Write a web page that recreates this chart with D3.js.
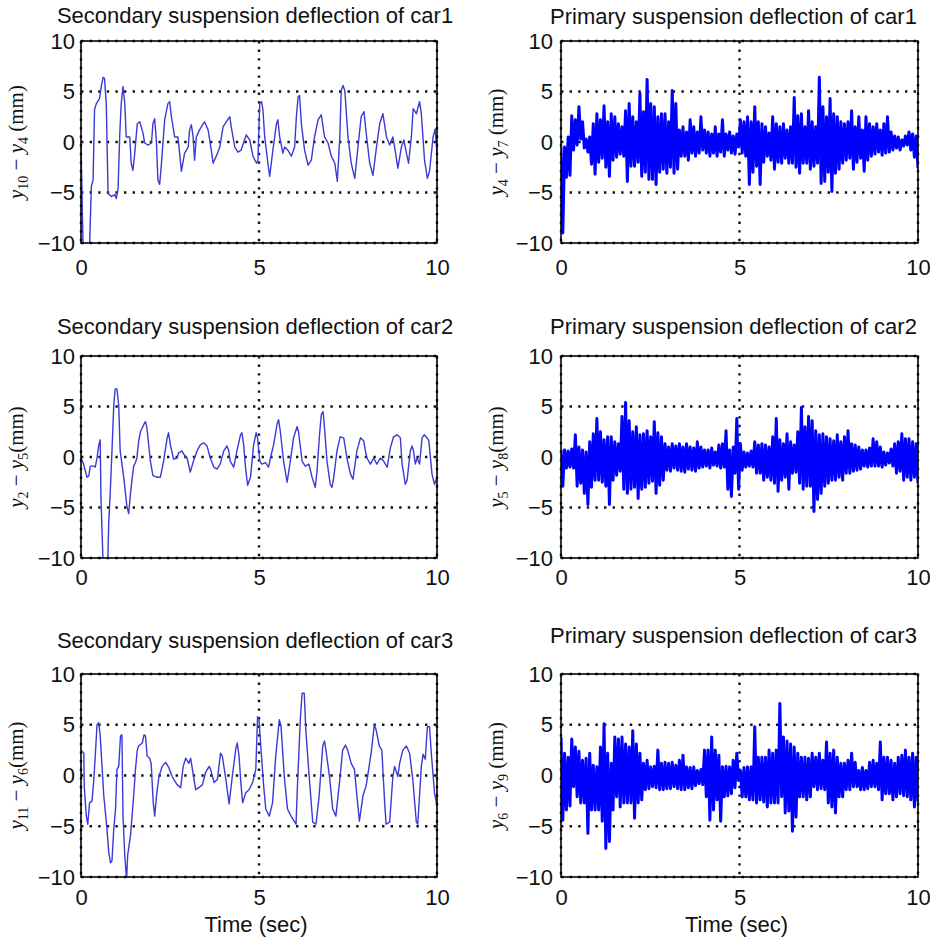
<!DOCTYPE html>
<html>
<head>
<meta charset="utf-8">
<script src="https://cdnjs.cloudflare.com/ajax/libs/d3/7.8.5/d3.min.js"></script>
<style>
  body { margin: 0; background: #fff; }
</style>
</head>
<body>
<div id="chart"></div>
<script>
// axis ticks
var xTicks = [0, 5, 10];
var yTicks = [-10, -5, 0, 5, 10];

// secondary suspension (smooth traces): time (s) and deflection (mm)
var sec1T = [0,0.06,0.24,0.29,0.34,0.38,0.43,0.52,0.57,0.62,0.66,0.71,0.76,0.85,0.95,0.99,1.04,1.09,1.13,1.18,1.23,1.27,1.37,1.41,1.46,1.51,1.58,1.65,1.74,1.79,1.88,1.98,2.02,2.07,2.12,2.16,2.21,2.26,2.35,2.44,2.49,2.54,2.63,2.72,2.77,2.82,2.91,3.01,3.05,3.10,3.15,3.19,3.24,3.33,3.43,3.47,3.57,3.66,3.71,3.80,3.90,3.99,4.08,4.18,4.22,4.32,4.41,4.50,4.64,4.74,4.83,4.93,4.97,5.02,5.07,5.11,5.16,5.25,5.30,5.39,5.49,5.53,5.58,5.67,5.72,5.81,5.91,6.00,6.05,6.10,6.14,6.19,6.28,6.38,6.47,6.56,6.66,6.75,6.84,6.94,7.03,7.13,7.20,7.27,7.31,7.36,7.41,7.50,7.59,7.69,7.78,7.87,7.95,8.01,8.11,8.20,8.30,8.39,8.48,8.58,8.67,8.76,8.81,8.90,9.00,9.07,9.14,9.20,9.28,9.33,9.42,9.51,9.56,9.65,9.73,9.79,9.89,9.95,10.0];
var sec1V = [-0.5,-10.5,-10.5,-4.4,-3.75,3.2,3.8,4.3,5.5,6.4,6.3,3.8,-5.1,-5.4,-5.2,-5.6,-4.7,0.9,3.8,5.5,3.8,0.5,0.5,-2.1,-2.8,-1.1,1.8,2.0,0.9,-0.1,-0.3,-0.1,1.8,2.3,-0.1,-3.75,-4.2,-2.1,2.2,3.8,4.0,2.5,0.5,0.5,-1.1,-2.9,-1.1,-0.5,1.2,1.7,0.5,-1.8,0.5,1.2,1.8,2.0,1.2,-0.8,-2.1,-1.4,-0.5,1.5,2.0,2.5,1.5,-0.5,-1.0,-0.8,0.7,0.2,-1.4,-2.1,-1.8,3.8,4.0,3.2,0.5,-2.1,-3.4,-0.8,1.8,2.2,0.5,-1.1,-0.5,-0.8,-1.4,-0.5,2.5,4.5,4.6,1.8,-0.8,-2.3,-1.8,0.5,2.2,2.7,0.5,-0.1,-1.4,-2.1,-3.9,0.5,5.1,5.6,5.1,0.5,-2.1,-3.6,-0.5,2.5,3.0,0.9,-2.1,-3.3,-0.5,1.8,2.8,0.5,-0.3,0.5,-0.5,-2.6,-0.5,0.2,-1.1,-2.1,0.5,3.3,2.8,4.0,2.8,-1.8,-3.6,-2.9,0.5,1.3,-1.1];

var sec2T = [0,0.07,0.17,0.22,0.26,0.36,0.40,0.45,0.50,0.54,0.56,0.62,0.75,0.78,0.82,0.87,0.92,0.96,1.01,1.06,1.10,1.20,1.25,1.29,1.34,1.39,1.43,1.48,1.53,1.57,1.62,1.67,1.76,1.81,1.85,1.95,2.02,2.13,2.23,2.32,2.42,2.46,2.51,2.60,2.70,2.74,2.84,2.88,2.98,3.07,3.16,3.26,3.35,3.45,3.54,3.63,3.73,3.82,3.91,4.01,4.10,4.15,4.19,4.29,4.38,4.48,4.52,4.57,4.62,4.68,4.76,4.85,4.92,4.96,5.02,5.08,5.18,5.27,5.32,5.41,5.51,5.55,5.60,5.69,5.79,5.88,5.97,6.07,6.11,6.21,6.30,6.40,6.49,6.58,6.63,6.70,6.75,6.80,6.84,6.91,7.00,7.05,7.10,7.19,7.28,7.38,7.47,7.57,7.64,7.75,7.85,7.94,7.99,8.03,8.13,8.22,8.31,8.41,8.50,8.60,8.69,8.78,8.88,8.97,9.02,9.11,9.16,9.25,9.30,9.34,9.39,9.44,9.51,9.58,9.64,9.72,9.77,9.86,9.93,10.0];
var sec2V = [-0.1,-0.7,-2.0,-1.85,-0.9,-0.9,-1.0,-0.1,1.2,1.7,-4.0,-10.5,-10.5,-6.4,-3.6,0.6,5.1,6.75,6.75,5.1,0.6,-2.0,-3.6,-4.9,-5.6,-3.6,-2.3,-0.9,-0.55,-0.1,1.6,2.5,3.2,3.5,2.9,-0.4,-1.85,-2.0,-2.0,-0.4,1.9,2.4,1.2,-0.2,-0.1,0.4,0.6,0.3,-0.1,-1.5,-0.4,0.6,1.2,1.4,1.1,-0.1,-1.0,-1.2,-0.7,0.6,1.1,0.6,-0.4,-1.0,0.6,2.2,2.4,1.2,-1.0,-2.8,-2.0,1.2,2.4,1.9,-0.4,-0.7,-0.55,-1.0,-0.1,1.2,3.3,3.7,2.5,-0.4,-2.5,-0.4,1.9,3.0,2.5,-0.4,-0.9,-0.7,-2.0,-3.0,-1.4,2.2,4.2,4.5,2.9,-0.4,-2.7,-3.0,-2.0,0.6,2.0,1.9,-0.1,-1.7,-2.2,0.6,1.9,1.6,0.6,-0.1,-0.7,-0.1,-0.7,-0.1,-0.4,-1.0,0.9,2.0,2.2,1.9,-0.7,-2.7,-2.3,0.6,1.1,0.6,-0.7,-0.1,-0.7,1.9,2.2,1.9,1.6,-1.7,-2.7,-2.0];

var sec3T = [0,0.03,0.08,0.09,0.15,0.19,0.24,0.31,0.36,0.40,0.45,0.50,0.54,0.64,0.73,0.78,0.83,0.87,0.92,0.97,1.01,1.06,1.11,1.15,1.18,1.23,1.28,1.31,1.39,1.48,1.53,1.58,1.62,1.72,1.77,1.81,1.86,1.93,1.97,2.03,2.07,2.12,2.19,2.28,2.38,2.47,2.56,2.61,2.70,2.80,2.87,2.94,3.03,3.08,3.13,3.22,3.31,3.41,3.50,3.60,3.64,3.74,3.83,3.92,3.97,4.07,4.16,4.25,4.35,4.39,4.44,4.49,4.54,4.63,4.72,4.82,4.91,4.96,5.00,5.05,5.13,5.19,5.29,5.38,5.47,5.57,5.62,5.71,5.80,5.90,6.04,6.08,6.16,6.21,6.27,6.32,6.41,6.51,6.60,6.69,6.79,6.84,6.88,6.98,7.07,7.16,7.26,7.35,7.43,7.49,7.59,7.68,7.77,7.82,7.92,8.01,8.15,8.24,8.29,8.38,8.45,8.53,8.57,8.67,8.76,8.81,8.90,8.95,9.04,9.14,9.23,9.32,9.42,9.46,9.56,9.61,9.67,9.73,9.79,9.84,9.93,10.0];
var sec3V = [2.2,2.4,2.2,-1.0,-4.0,-4.8,-2.7,-2.5,-0.4,1.9,5.0,5.2,3.9,-2.0,-5.3,-7.6,-8.6,-8.4,-5.3,-3.3,0.6,0.9,3.9,4.0,-4.0,-7.9,-10.3,-7.9,-5.9,-2.0,0.6,2.5,2.9,3.2,4.0,3.9,1.9,1.7,1.2,-2.7,-4.0,-2.0,-0.1,0.9,1.3,0.75,-0.1,-0.4,-0.9,-1.2,0.9,1.7,1.2,1.7,0.6,-1.4,-1.2,-0.9,0.3,0.9,0.6,-0.7,-0.4,2.2,1.9,-0.4,-2.8,-0.1,2.7,3.2,1.9,-0.7,-2.7,-1.7,-1.4,-0.7,0.6,5.8,5.5,2.9,-1.0,-3.3,-4.0,-2.7,1.9,5.5,4.8,-0.1,-3.3,-4.0,-4.8,-1.0,5.5,8.1,8.1,4.2,-0.1,-4.6,-4.8,-2.0,2.9,3.4,2.5,-0.1,-3.3,-4.0,-0.7,2.5,3.0,2.5,1.2,0.6,-2.7,-4.5,-2.0,-1.0,2.2,5.0,4.5,2.9,2.5,-2.7,-4.8,-4.6,-0.1,0.9,-0.1,1.2,2.5,2.9,2.2,-0.4,-4.6,-4.8,0.9,2.1,1.6,4.8,4.8,2.2,-1.7,-3.0];

// primary suspension (dense vibration): upper / lower swing in each 0.1 s step (mm)
var pri1Hi = [-0.5,-0.5,0.5,2.6,2.2,3.5,2.0,0.3,0.5,1.8, 2.8,2.2,3.6,2.0,2.8,2.5,1.8,1.5,3.1,3.8, 2.5,2.0,4.8,3.0,6.2,3.8,3.5,2.5,2.8,2.8, 2.0,5.1,3.8,1.2,1.5,1.0,2.2,1.5,1.0,2.5, 1.2,1.0,0.8,1.5,0.8,2.2,0.8,1.0,0.6,0.8, 2.2,2.0,2.5,2.0,3.5,2.0,1.8,1.5,0.9,2.5, 1.8,1.5,1.8,1.2,1.5,4.4,2.6,2.8,1.5,3.1, 2.0,1.5,6.4,3.5,2.5,4.3,2.8,2.5,2.0,1.8, 2.0,3.1,1.5,2.5,1.2,2.5,1.8,1.5,1.8,1.2, 1.8,2.5,1.0,0.6,0.5,0.2,0.6,1.0,0.8,0.6];
var pri1Lo = [-9.0,-3.5,-3.3,-0.8,-0.3,0.3,-0.6,-1.0,-2.2,-3.2, -2.0,-1.6,-2.5,-3.4,-1.8,-1.5,-1.2,-1.4,-3.9,-2.4, -2.4,-2.0,-3.4,-3.0,-3.7,-3.7,-4.2,-3.0,-2.7,-3.1, -2.5,-3.1,-2.7,-1.4,-1.4,-1.8,-1.1,-1.4,-1.1,-0.8, -1.1,-1.4,-1.1,-1.4,-1.0,-1.4,-0.8,-1.1,-1.2,-0.5, -1.1,-1.4,-4.2,-3.0,-2.4,-4.2,-2.0,-1.4,-1.8,-2.7, -2.0,-2.1,-1.6,-2.1,-2.1,-2.5,-3.1,-2.1,-2.1,-2.7, -2.4,-2.1,-4.1,-3.9,-3.0,-4.9,-3.1,-2.7,-2.1,-1.8, -1.6,-2.7,-2.0,-1.6,-2.9,-1.8,-1.4,-1.2,-1.0,-1.3, -1.1,-1.0,-0.8,-0.6,-0.8,-0.4,-0.3,-0.8,-1.5,-2.6];

var pri2Hi = [0.7,0.7,0.6,0.8,2.2,1.0,0.7,0.5,1.5,2.3, 3.8,2.5,1.7,2.0,2.0,1.5,1.3,4.0,5.4,3.6, 2.5,3.0,2.2,2.3,2.6,2.0,3.5,2.4,2.0,1.3, 1.0,1.3,1.1,1.3,1.0,1.3,1.0,0.9,1.5,1.0, 0.7,0.7,0.9,0.5,1.2,1.3,2.6,0.7,1.0,3.8, 1.3,0.5,0.4,0.6,1.5,1.2,1.3,1.2,1.0,2.0, 3.8,1.7,1.3,2.3,1.5,1.2,2.5,4.9,3.0,4.0, 3.6,2.6,2.2,2.3,2.0,1.8,1.6,2.2,1.5,2.0, 2.6,1.3,1.2,1.0,0.7,0.7,0.9,1.8,1.5,1.0, 0.5,0.4,0.8,1.3,1.5,2.3,1.8,1.8,1.5,1.3];
var pri2Lo = [-2.9,-1.1,-1.0,-1.1,-2.9,-2.6,-3.6,-4.7,-3.0,-2.3, -2.3,-2.5,-2.9,-4.7,-2.3,-1.8,-1.4,-3.2,-3.6,-3.2, -3.0,-4.1,-3.2,-3.0,-2.6,-2.4,-3.6,-2.8,-2.3,-1.3, -1.4,-1.1,-1.3,-1.4,-1.5,-1.2,-1.3,-1.4,-1.1,-1.0, -0.9,-1.1,-0.8,-0.9,-1.1,-1.0,-3.2,-3.9,-1.6,-3.2, -1.3,-1.0,-0.9,-1.0,-1.6,-1.6,-2.3,-2.0,-2.3,-2.6, -3.4,-2.3,-2.0,-3.2,-1.6,-1.5,-2.6,-3.2,-2.9,-2.9, -5.4,-4.2,-3.6,-2.9,-2.6,-2.3,-2.3,-2.0,-2.3,-1.6, -1.6,-1.4,-1.3,-1.2,-0.9,-1.0,-0.9,-0.9,-0.9,-1.0, -0.8,-0.6,-0.9,-1.6,-1.4,-2.3,-2.0,-2.3,-2.0,-2.6];

var pri3Hi = [3.8,2.2,1.8,3.6,2.8,2.4,1.5,1.7,2.2,1.0, 0.85,2.8,5.1,2.2,1.2,3.8,3.6,3.8,3.1,2.8, 4.4,3.1,2.2,1.2,1.5,0.85,0.9,2.5,1.2,1.3, 1.2,1.3,1.0,1.5,2.0,0.85,0.8,0.85,0.5,0.6, 2.5,2.5,3.8,2.5,2.0,0.85,0.9,0.85,1.5,2.2, 0.5,0.8,0.85,0.85,4.8,1.8,1.8,1.8,2.5,2.2, 2.5,7.1,3.8,3.4,3.1,2.8,2.2,1.8,1.8,1.7, 2.2,1.8,2.2,1.5,3.3,2.2,2.5,1.8,1.2,1.2, 1.5,2.2,1.3,0.5,0.8,0.5,1.3,1.5,1.2,3.3, 1.8,1.8,1.5,1.2,1.8,2.0,2.5,1.8,2.2,1.8];
var pri3Lo = [-4.4,-3.4,-3.0,-1.1,-2.1,-2.7,-2.7,-5.7,-3.4,-3.4, -3.4,-4.5,-7.2,-6.5,-3.4,-2.1,-3.1,-2.7,-2.7,-2.7, -4.2,-2.7,-2.4,-1.4,-1.3,-1.1,-1.2,-1.4,-1.4,-1.3, -1.3,-1.1,-1.3,-1.4,-1.4,-1.2,-1.3,-1.0,-0.8,-0.9, -2.1,-4.4,-3.4,-2.4,-4.5,-2.1,-2.0,-1.8,-1.2,-0.5, -2.1,-2.1,-2.4,-2.4,-2.7,-2.4,-2.6,-3.1,-2.7,-2.7, -2.7,-2.1,-3.7,-3.5,-5.5,-4.1,-2.1,-2.1,-2.4,-2.1, -1.1,-1.4,-1.3,-1.4,-2.7,-3.1,-3.7,-2.1,-2.1,-1.4, -1.4,-1.1,-1.1,-1.4,-1.4,-1.3,-1.1,-1.1,-1.4,-2.4, -1.8,-1.8,-2.4,-2.1,-1.8,-2.0,-2.1,-2.4,-3.1,-2.6];

// layout
var width = 930, height = 940;
var cols = [{x0: 81, x1: 437, labelX: 23, pad: 6, titleDx: -4},
            {x0: 561, x1: 918, labelX: 503, pad: 8, titleDx: -6}];
var rows = [{y0: 41, y1: 243, tickPad: 16, titleY: [23, 24]},
            {y0: 356, y1: 558, tickPad: 11, titleY: [334, 334]},
            {y0: 674, y1: 877, tickPad: 12, titleY: [648, 643]}];

var sansFont = "'Liberation Sans', Arial, Helvetica, sans-serif";
var serifFont = "'Liberation Serif', 'Times New Roman', serif";

function pairs(ts, vs) {
  return ts.map(function(t, i) { return [t, vs[i]]; });
}

// vibration trace: upper and lower swing points alternate across 0..10 s
function swing(hi, lo) {
  var n = hi.length * 2;
  var pts = [];
  hi.forEach(function(h, i) {
    pts.push([(2 * i) * 10 / (n - 1), h]);
    pts.push([(2 * i + 1) * 10 / (n - 1), lo[i]]);
  });
  return pts;
}

var panels = [
  {row: 0, col: 0, title: "Secondary suspension deflection of car1",
   label: [["y", 0], ["10", 1], [" \u2212 ", 0], ["y", 0], ["4", 1], [" (mm)", 0]],
   data: pairs(sec1T, sec1V), color: "#3a3ad6", lw: 1.4},
  {row: 0, col: 1, title: "Primary suspension deflection of car1",
   label: [["y", 0], ["4", 1], [" \u2212 ", 0], ["y", 0], ["7", 1], [" (mm)", 0]],
   data: swing(pri1Hi, pri1Lo), color: "#0000ff", lw: 3},
  {row: 1, col: 0, title: "Secondary suspension deflection of car2",
   label: [["y", 0], ["2", 1], [" \u2212 ", 0], ["y", 0], ["5", 1], ["(mm)", 0]],
   data: pairs(sec2T, sec2V), color: "#3a3ad6", lw: 1.4},
  {row: 1, col: 1, title: "Primary suspension deflection of car2",
   label: [["y", 0], ["5", 1], [" \u2212 ", 0], ["y", 0], ["8", 1], ["(mm)", 0]],
   data: swing(pri2Hi, pri2Lo), color: "#0000ff", lw: 3},
  {row: 2, col: 0, title: "Secondary suspension deflection of car3",
   label: [["y", 0], ["11", 1], [" \u2212 ", 0], ["y", 0], ["6", 1], ["(mm)", 0]],
   data: pairs(sec3T, sec3V), color: "#3a3ad6", lw: 1.4},
  {row: 2, col: 1, title: "Primary suspension deflection of car3",
   label: [["y", 0], ["6", 1], [" \u2212 ", 0], ["y", 0], ["9", 1], [" (mm)", 0]],
   data: swing(pri3Hi, pri3Lo), color: "#0000ff", lw: 3}
];

var svg = d3.select("#chart")
            .append("svg")
            .attr("width", width)
            .attr("height", height)
            .style("font-family", sansFont);

svg.append("rect").attr("width", width).attr("height", height).attr("fill", "#fff");

panels.forEach(function(p, k) {
  var c = cols[p.col], r = rows[p.row];
  var x = d3.scaleLinear().domain([0, 10]).range([c.x0, c.x1]);
  var y = d3.scaleLinear().domain([-10, 10]).range([r.y1, r.y0]);
  var g = svg.append("g");

  g.append("clipPath").attr("id", "clip" + k)
    .append("rect")
    .attr("x", c.x0).attr("y", r.y0)
    .attr("width", c.x1 - c.x0).attr("height", r.y1 - r.y0);

  // dotted grid (also over the frame, like the original)
  var grid = g.append("g")
    .attr("stroke", "#111")
    .attr("stroke-width", 2.4)
    .attr("stroke-dasharray", "2.4,6.2");
  grid.selectAll(".vgrid").data(xTicks).enter().append("line")
    .attr("x1", function(d) { return x(d); }).attr("x2", function(d) { return x(d); })
    .attr("y1", r.y0).attr("y2", r.y1);
  grid.selectAll(".hgrid").data(yTicks).enter().append("line")
    .attr("y1", function(d) { return y(d); }).attr("y2", function(d) { return y(d); })
    .attr("x1", c.x0).attr("x2", c.x1);

  // trace
  var line = d3.line()
               .x(function(d) { return x(d[0]); })
               .y(function(d) { return y(d[1]); });
  g.append("path")
    .datum(p.data)
    .attr("clip-path", "url(#clip" + k + ")")
    .attr("d", line)
    .attr("fill", "none")
    .attr("stroke", p.color)
    .attr("stroke-width", p.lw)
    .attr("stroke-linejoin", "round");

  // box
  g.append("rect")
    .attr("x", c.x0).attr("y", r.y0)
    .attr("width", c.x1 - c.x0).attr("height", r.y1 - r.y0)
    .attr("fill", "none")
    .attr("stroke", "#000")
    .attr("stroke-width", 1.6);

  // axes
  var ya = g.append("g")
    .attr("transform", "translate(" + c.x0 + ",0)")
    .call(d3.axisLeft(y).tickValues(yTicks).tickSize(0).tickPadding(c.pad));
  var xa = g.append("g")
    .attr("transform", "translate(0," + r.y1 + ")")
    .call(d3.axisBottom(x).tickValues(xTicks).tickSize(0).tickPadding(r.tickPad));
  [ya, xa].forEach(function(a) {
    a.select(".domain").remove();
    a.selectAll("text")
      .style("font-family", sansFont)
      .style("font-size", "22px")
      .attr("fill", "#111");
  });

  // title
  g.append("text")
    .attr("x", (c.x0 + c.x1) / 2 + c.titleDx)
    .attr("y", r.titleY[p.col])
    .attr("text-anchor", "middle")
    .style("font-size", "22px")
    .attr("fill", "#111")
    .text(p.title);

  // y label with subscripts
  var cy = (r.y0 + r.y1) / 2;
  var lab = g.append("text")
    .attr("transform", "translate(" + c.labelX + "," + cy + ") rotate(-90)")
    .attr("text-anchor", "middle")
    .style("font-family", serifFont)
    .style("font-size", "21px")
    .attr("fill", "#111");
  var prevSub = 0;
  p.label.forEach(function(part) {
    var ts = lab.append("tspan").text(part[0]);
    if (part[1] && !prevSub) ts.attr("dy", 5).style("font-size", "14px");
    if (!part[1] && prevSub) ts.attr("dy", -5);
    if (part[0] === "y") ts.style("font-style", "italic");
    prevSub = part[1];
  });

  if (p.row === 2) {
    g.append("text")
      .attr("x", (c.x0 + c.x1) / 2 - 3)
      .attr("y", 932)
      .attr("text-anchor", "middle")
      .style("font-size", "22px")
      .attr("fill", "#111")
      .text("Time (sec)");
  }
});
</script>
</body>
</html>
